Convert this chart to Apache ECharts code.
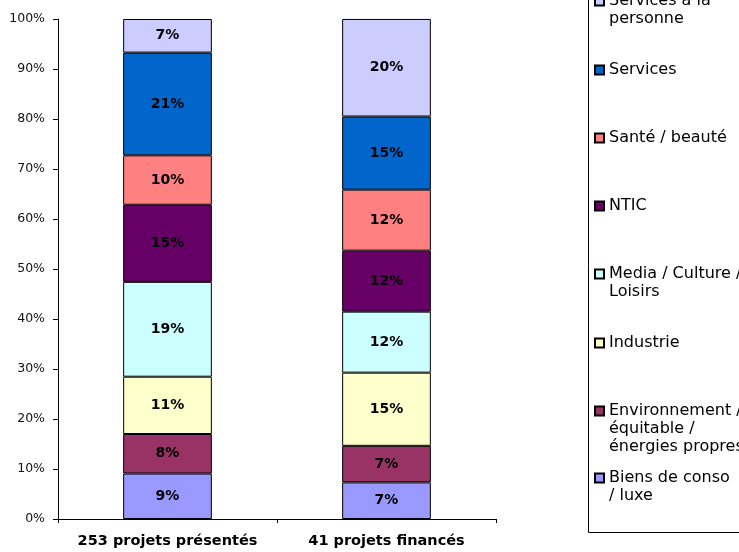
<!DOCTYPE html>
<html>
<head>
<meta charset="utf-8">
<script src="https://cdn.jsdelivr.net/npm/echarts@6/dist/echarts.min.js"></script>
<style>
  html, body { margin: 0; padding: 0; background: #fff; }
  #chart { width: 739px; height: 552px; }
</style>
</head>
<body>
<div id="chart"></div>
<script>
// categories on the x axis
const categories = ["253 projets présentés", "41 projets financés"];

// sectors, bottom of the stack first
const sectors = [
  "Biens de conso / luxe",
  "Environnement / équitable / énergies propres",
  "Industrie",
  "Media / Culture / Loisirs",
  "NTIC",
  "Santé / beauté",
  "Services",
  "Services à la personne",
];

// share of each sector (%), [presentés, financés]
const biens = [9.09, 7.32];
const environnement = [7.91, 7.32];
const industrie = [11.46, 14.63];
const media = [18.97, 12.2];
const ntic = [15.42, 12.2];
const sante = [9.88, 12.2];
const services = [20.55, 14.63];
const servicesPersonne = [6.72, 19.51];

const seriesValues = [biens, environnement, industrie, media, ntic, sante, services, servicesPersonne];
const colors = ["#9999FF", "#993366", "#FFFFCC", "#CCFFFF", "#660066", "#FF8080", "#0066CC", "#CCCCFF"];

// legend text as wrapped in the picture (blank lines keep the symbol on the first line)
const legendText = {
  "Services à la personne": "\nServices à la\npersonne",
  "Services": "Services",
  "Santé / beauté": "Santé / beauté",
  "NTIC": "NTIC",
  "Media / Culture / Loisirs": "\nMedia / Culture /\nLoisirs",
  "Industrie": "Industrie",
  "Environnement / équitable / énergies propres": "\n\nEnvironnement /\néquitable /\nénergies propres",
  "Biens de conso / luxe": "\nBiens de conso\n/ luxe",
};
const legendTop = {
  "Services à la personne": -26,
  "Services": 61,
  "Santé / beauté": 129,
  "NTIC": 197,
  "Media / Culture / Loisirs": 247,
  "Industrie": 334,
  "Environnement / équitable / énergies propres": 366,
  "Biens de conso / luxe": 451,
};

const font = "'DejaVu Sans', Arial, sans-serif";

const chart = echarts.init(document.getElementById("chart"));

const options = {
  animation: false,
  grid: {
    left: 58,
    right: 243,
    top: 19,
    bottom: 33,
  },
  legend: sectors.map((name) => ({
    data: [name],
    orient: "vertical",
    left: 594,
    top: legendTop[name],
    padding: 0,
    itemWidth: 9,
    itemHeight: 9,
    icon: "rect",
    formatter: (n) => legendText[n],
    textStyle: {
      fontFamily: font,
      fontSize: 16,
      lineHeight: 18,
      color: "#000",
    },
  })),
  graphic: [
    {
      type: "rect",
      shape: { x: 588.5, y: -10, width: 200, height: 542.5 },
      style: { fill: "none", stroke: "#000", lineWidth: 1 },
      silent: true,
    },
  ],
  xAxis: {
    type: "category",
    data: categories,
    axisLine: { lineStyle: { color: "#000", width: 1 } },
    axisTick: { show: true, length: 4, lineStyle: { color: "#000" } },
    axisLabel: {
      interval: 0,
      margin: 15,
      fontFamily: font,
      fontWeight: "bold",
      fontSize: 14.5,
      color: "#000",
    },
  },
  yAxis: {
    type: "value",
    min: 0,
    max: 100,
    interval: 10,
    axisLine: { show: true, lineStyle: { color: "#000", width: 1 } },
    axisTick: { show: true, length: 5, lineStyle: { color: "#000" } },
    axisLabel: {
      formatter: "{value}%",
      margin: 13,
      fontFamily: font,
      fontSize: 12.5,
      color: "#111",
    },
    splitLine: { show: false },
  },
  series: sectors.map((name, i) => ({
    name: name,
    type: "bar",
    stack: "total",
    barWidth: "40.5%",
    data: seriesValues[i],
    itemStyle: {
      color: colors[i],
      borderColor: "#000",
      borderWidth: 1,
    },
    label: {
      show: true,
      position: "inside",
      formatter: (p) => Math.round(p.value) + "%",
      fontFamily: font,
      fontWeight: "bold",
      fontSize: 14,
      color: "#000",
    },
  })),
};

chart.setOption(options);
window.addEventListener("resize", () => {
  chart.resize();
});
</script>
</body>
</html>
